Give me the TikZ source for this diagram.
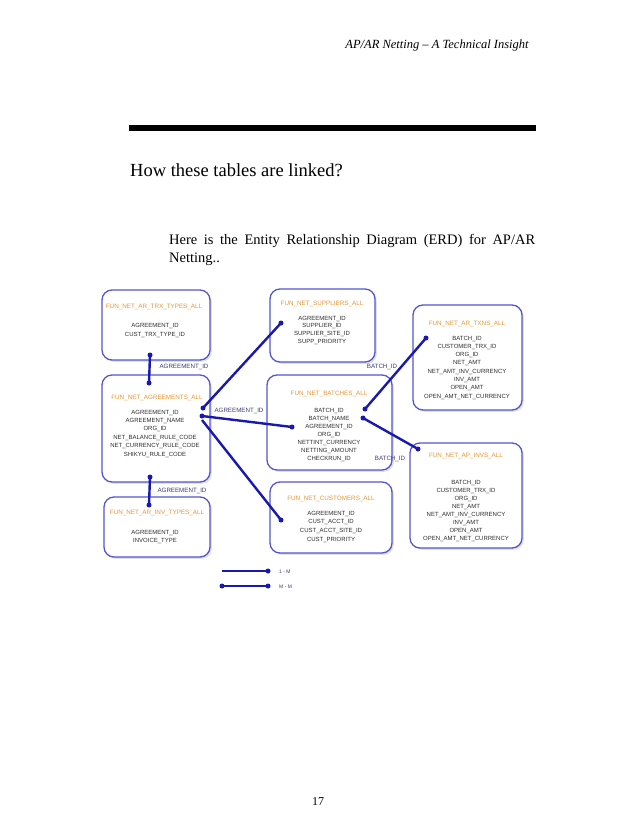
\documentclass[tikz,border=0pt]{standalone}
\usepackage{fontspec}
\setmainfont{Liberation Serif}
\newfontfamily\erdfont{Liberation Sans}
\definecolor{boxblue}{RGB}{85,85,210}
\definecolor{lineblue}{RGB}{25,25,175}
\definecolor{titleorange}{RGB}{232,150,50}
\definecolor{fieldgray}{RGB}{45,45,45}
\definecolor{labelblue}{RGB}{60,60,120}
\tikzset{
 tbl/.style={draw=boxblue, line width=1.3pt, rounded corners=10pt, fill=white, inner sep=0pt},
 shadowbox/.style={fill=black!12, rounded corners=10pt, inner sep=0pt},
 ttl/.style={font=\erdfont\fontsize{6.3}{7}\selectfont, text=titleorange, anchor=base, inner sep=0pt},
 fld/.style={font=\erdfont\fontsize{6}{7}\selectfont, text=fieldgray, anchor=base, inner sep=0pt},
 rel/.style={draw=lineblue, line width=2.4pt},
 lbl/.style={font=\erdfont\fontsize{6.2}{7}\selectfont, text=labelblue, anchor=base, inner sep=0pt},
 lgd/.style={font=\erdfont\fontsize{5}{6}\selectfont, text=labelblue, anchor=base west, inner sep=0pt},
 dotc/.style={fill=lineblue, circle, inner sep=0pt, minimum size=5pt}
}
\newcommand\erdbox[5]{%
  \node[shadowbox, minimum width=#4pt, minimum height=#5pt] at ({#2+1.8},{#3+1.8}) {};
  \node[tbl, minimum width=#4pt, minimum height=#5pt] (#1) at (#2,#3) {};}
\newcommand\erdfields[5]{%
  \foreach \t [count=\i] in {#5} {\node[fld] (#1f\i) at (#2,{#3+(\i-1)*#4}) {\t};}}
\begin{document}
\begin{tikzpicture}[x=1pt,y=-1pt]
\useasboundingbox (0,0) rectangle (638,826);
\fill[white] (0,0) rectangle (638,826);
% page header
\node[font=\itshape\fontsize{12.5}{14}\selectfont, anchor=base, inner sep=0pt] (hdr) at (437,49) {AP/AR Netting -- A Technical Insight};
\fill[black] (129,125) rectangle (536,131);
\node[font=\fontsize{18.5}{22}\selectfont, anchor=base west, inner sep=0pt] (head) at (130,177) {How these tables are linked?};
\node[font=\fontsize{14.5}{18.5}\selectfont, anchor=base west, inner sep=0pt, text width=366pt, align=justify] (para) at (169,244) {Here is the Entity Relationship Diagram (ERD) for AP/AR\linebreak Netting..};
\node[font=\fontsize{12}{14}\selectfont, anchor=base, inner sep=0pt] (pg) at (318,805) {17};

% tables
\erdbox{t1}{156}{325}{108}{70}
\erdbox{t2}{156}{428.5}{108}{107}
\erdbox{t3}{157}{527}{106}{60}
\erdbox{t4}{322.5}{325.5}{105}{73}
\erdbox{t5}{329.5}{422.5}{125}{95}
\erdbox{t6}{331}{517.5}{122}{71}
\erdbox{t7}{467.5}{357.5}{109}{105}
\erdbox{t8}{466}{495.5}{112}{105}

\node[ttl] (t1t) at (154,308) {FUN\_NET\_AR\_TRX\_TYPES\_ALL};
\erdfields{t1}{155}{327}{9}{AGREEMENT\_ID,CUST\_TRX\_TYPE\_ID}
\node[ttl] (t2t) at (157,399) {FUN\_NET\_AGREEMENTS\_ALL};
\erdfields{t2}{155}{414}{8.4}{AGREEMENT\_ID,AGREEMENT\_NAME,ORG\_ID,NET\_BALANCE\_RULE\_CODE,NET\_CURRENCY\_RULE\_CODE,SHIKYU\_RULE\_CODE}
\node[ttl] (t3t) at (157,514) {FUN\_NET\_AR\_INV\_TYPES\_ALL};
\erdfields{t3}{155}{534}{8.4}{AGREEMENT\_ID,INVOICE\_TYPE}
\node[ttl] (t4t) at (322,305) {FUN\_NET\_SUPPLIERS\_ALL};
\erdfields{t4}{322}{320}{7.8}{AGREEMENT\_ID,SUPPLIER\_ID,SUPPLIER\_SITE\_ID,SUPP\_PRIORITY}
\node[ttl] (t5t) at (329,395) {FUN\_NET\_BATCHES\_ALL};
\erdfields{t5}{329}{412}{8}{BATCH\_ID,BATCH\_NAME,AGREEMENT\_ID,ORG\_ID,NETTINT\_CURRENCY,NETTING\_AMOUNT,CHECKRUN\_ID}
\node[ttl] (t6t) at (331,500) {FUN\_NET\_CUSTOMERS\_ALL};
\erdfields{t6}{331}{515}{8.8}{AGREEMENT\_ID,CUST\_ACCT\_ID,CUST\_ACCT\_SITE\_ID,CUST\_PRIORITY}
\node[ttl] (t7t) at (467,325) {FUN\_NET\_AR\_TXNS\_ALL};
\erdfields{t7}{467}{340}{8.3}{BATCH\_ID,CUSTOMER\_TRX\_ID,ORG\_ID,NET\_AMT,NET\_AMT\_INV\_CURRENCY,INV\_AMT,OPEN\_AMT,OPEN\_AMT\_NET\_CURRENCY}
\node[ttl] (t8t) at (466,457) {FUN\_NET\_AP\_INVS\_ALL};
\erdfields{t8}{466}{484}{8}{BATCH\_ID,CUSTOMER\_TRX\_ID,ORG\_ID,NET\_AMT,NET\_AMT\_INV\_CURRENCY,INV\_AMT,OPEN\_AMT,OPEN\_AMT\_NET\_CURRENCY}

% connector end points
\coordinate (a1) at (150,355);
\coordinate (a2) at (149,383);
\coordinate (b1) at (150,477);
\coordinate (b2) at (149,505);
\coordinate (c1) at (203,408);
\coordinate (c2) at (281,323);
\coordinate (d1) at (202,416);
\coordinate (d2) at (292,427);
\coordinate (e1) at (202,420);
\coordinate (e2) at (281,520);
\coordinate (f1) at (365,409);
\coordinate (f2) at (426,338);
\coordinate (g1) at (363,418);
\coordinate (g2) at (418,449);

\draw[rel] (a1) -- (a2);
\draw[rel] (b1) -- (b2);
\draw[rel] (c1) -- (c2);
\draw[rel] (d1) -- (d2);
\draw[rel] (e1) -- (e2);
\draw[rel] (f1) -- (f2);
\draw[rel] (g1) -- (g2);
\foreach \p in {a1,a2,b1,b2,c1,c2,d1,d2,e2,f1,f2,g1,g2} \node[dotc] at (\p) {};

\node[lbl] (l1) at (184,368) {AGREEMENT\_ID};
\node[lbl] (l2) at (182,492) {AGREEMENT\_ID};
\node[lbl] (l3) at (239,412) {AGREEMENT\_ID};
\node[lbl] (l4) at (382,368) {BATCH\_ID};
\node[lbl] (l5) at (390,460) {BATCH\_ID};

% legend
\coordinate (m1) at (222,571);
\coordinate (m2) at (268,571);
\coordinate (n1) at (222,586);
\coordinate (n2) at (268,586);
\draw[rel] (m1) -- (m2);
\draw[rel] (n1) -- (n2);
\foreach \p in {m2,n1,n2} \node[dotc] at (\p) {};
\node[lgd] (k1) at (279,573) {1 - M};
\node[lgd] (k2) at (279,588) {M - M};
\end{tikzpicture}
\end{document}
